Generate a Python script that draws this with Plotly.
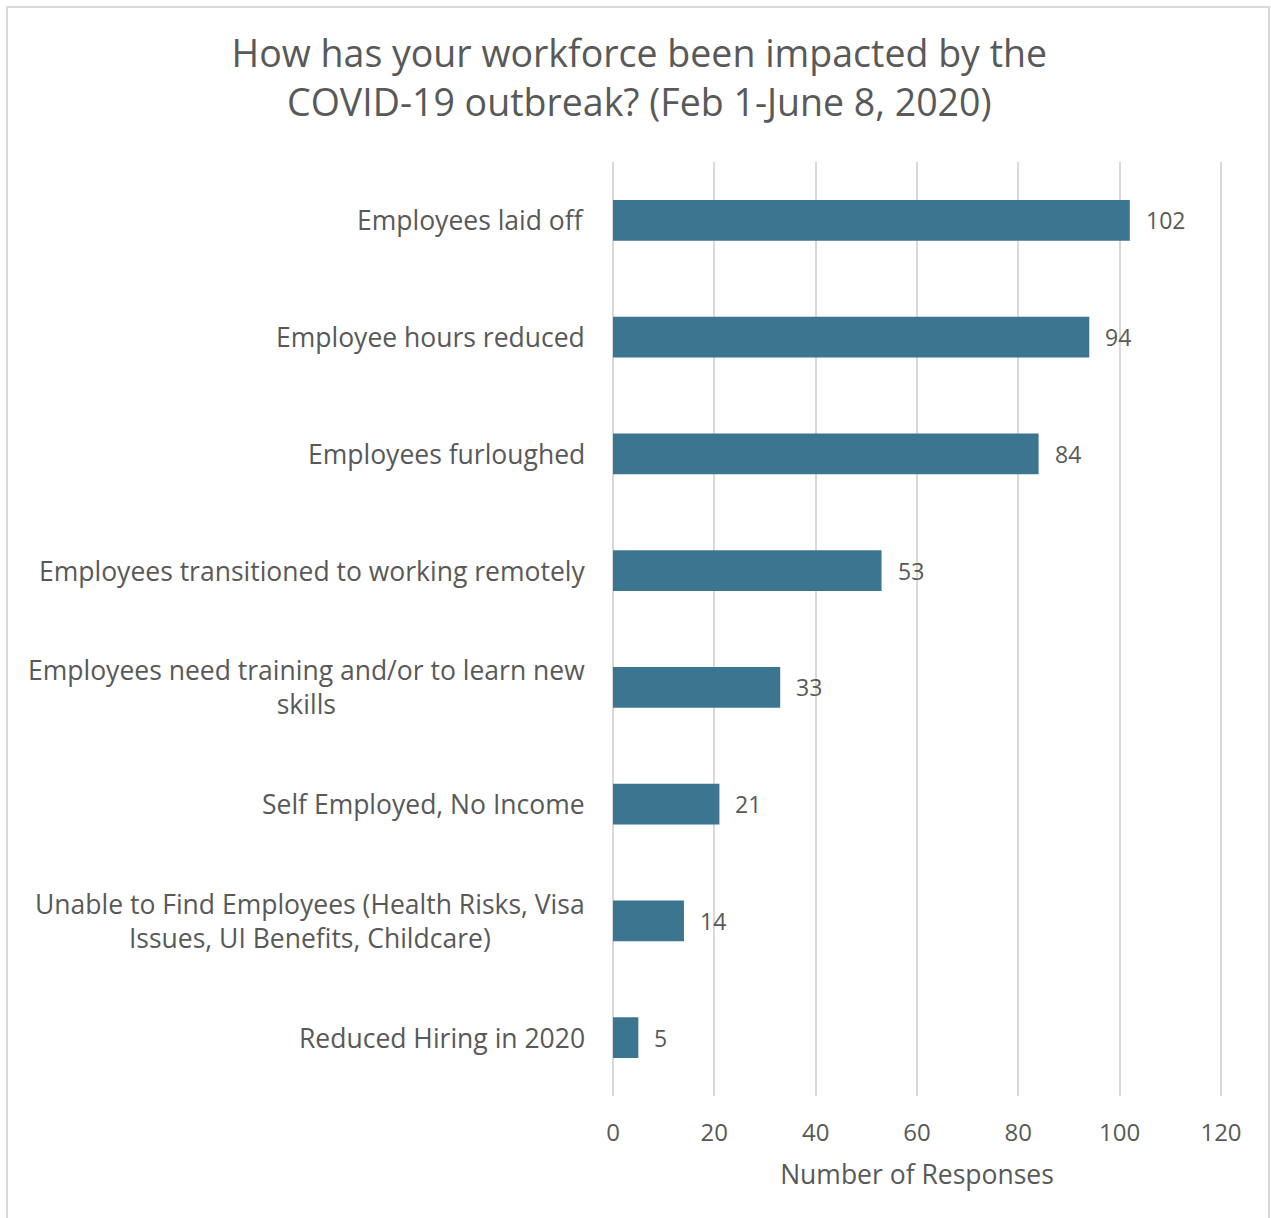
import plotly.graph_objects as go

categories = [
    "Employees laid off",
    "Employee hours reduced",
    "Employees furloughed",
    "Employees transitioned to working remotely",
    "Employees need training and/or to learn new<br>skills",
    "Self Employed, No Income",
    "Unable to Find Employees (Health Risks, Visa<br>Issues, UI Benefits, Childcare)",
    "Reduced Hiring in 2020",
]
values = [102, 94, 84, 53, 33, 21, 14, 5]
x_ticks = [0, 20, 40, 60, 80, 100, 120]

TEXT = "#595959"
BAR = "#3B7590"
GRID = "#D9D9D9"
FONT = "Open Sans"

W, H = 1271, 1218
L, R, T, B = 612, 49, 162, 122

fig = go.Figure()
fig.add_trace(go.Bar(
    x=values, y=categories, orientation="h",
    marker=dict(color=BAR, line=dict(width=0)),
    width=0.35, hoverinfo="x+y",
))

annotations = []
for c in categories:
    annotations.append(dict(
        x=0, xref="paper", y=c, yref="y", xanchor="right", yanchor="middle",
        xshift=-25, text=c, showarrow=False, align="center",
        font=dict(family=FONT, size=26.5, color=TEXT),
    ))
for c, v in zip(categories, values):
    annotations.append(dict(
        x=v, xref="x", y=c, yref="y", xanchor="left", yanchor="middle",
        xshift=14, text=str(v), showarrow=False,
        font=dict(family=FONT, size=23, color=TEXT),
    ))

fig.update_layout(
    width=W, height=H,
    margin=dict(l=L, r=R, t=T, b=B, pad=0),
    paper_bgcolor="white", plot_bgcolor="white",
    showlegend=False,
    title=dict(
        text="How has your workforce been impacted by the<br>COVID-19 outbreak? (Feb 1-June 8, 2020)",
        x=0.503, xref="container", xanchor="center",
        y=1 - 67 / H, yref="container", yanchor="middle",
        font=dict(family=FONT, size=37.5, color=TEXT),
    ),
    xaxis=dict(
        range=[-0.2, 120.2], tickvals=x_ticks, ticktext=[str(t) for t in x_ticks],
        showgrid=True, gridcolor=GRID, gridwidth=2,
        zeroline=False, showline=False,
        ticks="outside", ticklen=15, tickcolor="rgba(0,0,0,0)",
        tickfont=dict(family=FONT, size=24, color=TEXT),
        title=dict(text="Number of Responses", standoff=18,
                   font=dict(family=FONT, size=26.5, color=TEXT)),
        fixedrange=True,
    ),
    yaxis=dict(
        autorange="reversed", showticklabels=False, showgrid=False,
        zeroline=False, showline=False, ticks="", fixedrange=True,
    ),
    annotations=annotations,
    shapes=[dict(
        type="rect", xref="paper", yref="paper",
        x0=(7 - L) / (W - L - R), x1=(1269 - L) / (W - L - R),
        y0=(H - B - 1230) / (H - T - B), y1=(H - B - 7) / (H - T - B),
        line=dict(color=GRID, width=2), fillcolor="rgba(0,0,0,0)", layer="below",
    )],
)

fig.write_html(
    "out.html",
    config={"displayModeBar": False},
    post_script="document.body.style.margin='0';document.body.style.overflow='hidden';",
)
